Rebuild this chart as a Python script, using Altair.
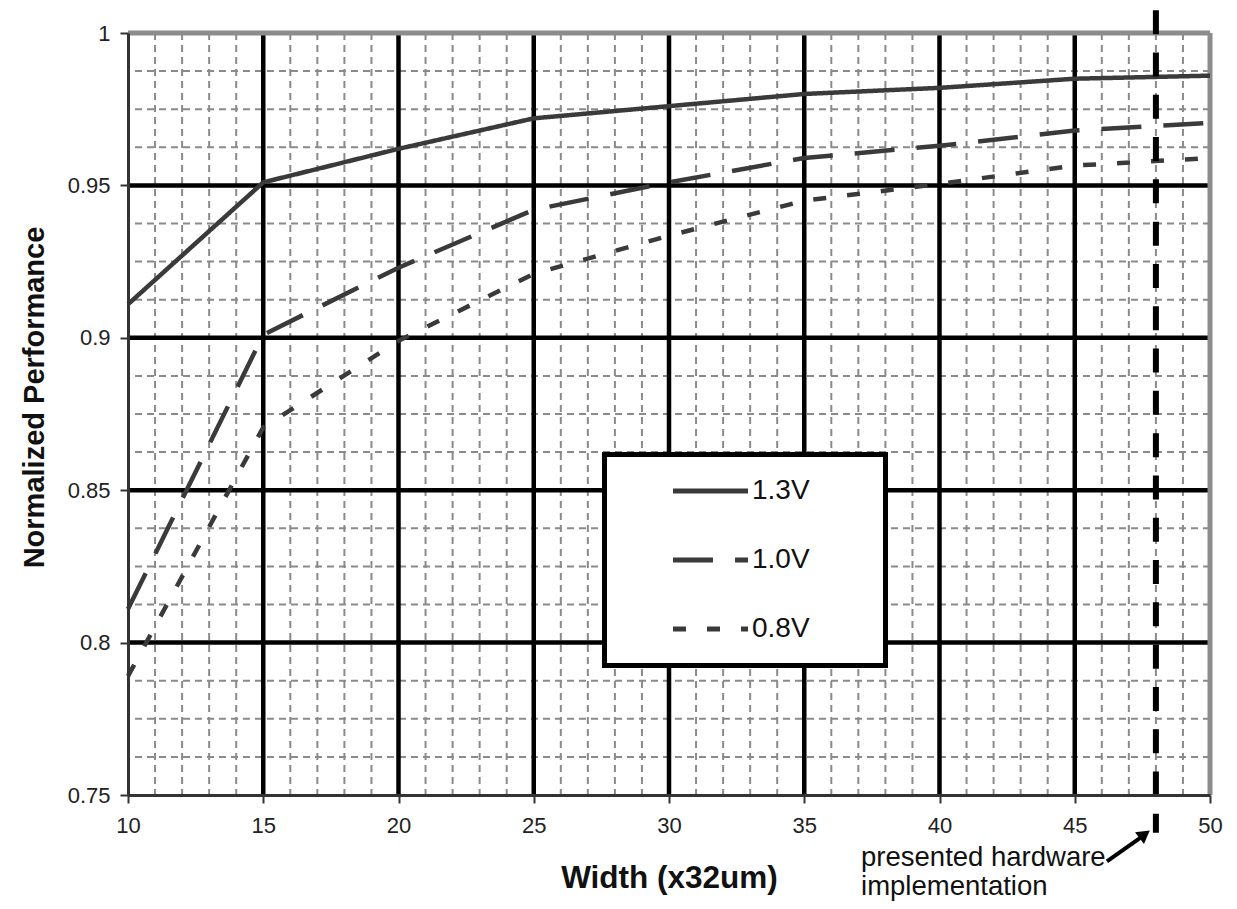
import altair as alt
import pandas as pd

# ---- data ----
widths = [10, 15, 20, 25, 30, 35, 40, 45, 50]
perf_13v = [0.911, 0.951, 0.962, 0.972, 0.976, 0.980, 0.982, 0.985, 0.986]
perf_10v = [0.811, 0.901, 0.923, 0.942, 0.951, 0.959, 0.963, 0.968, 0.9705]
perf_08v = [0.789, 0.8706, 0.899, 0.921, 0.9335, 0.945, 0.9505, 0.9565, 0.959]
series_names = ["1.3V", "1.0V", "0.8V"]
series_dashes = [[1, 0], [40, 22], [13, 21]]

x_ticks = [10, 15, 20, 25, 30, 35, 40, 45, 50]
y_ticks = [0.75, 0.8, 0.85, 0.9, 0.95, 1.0]
x_major_grid = [15, 20, 25, 30, 35, 40, 45]
y_major_grid = [0.8, 0.85, 0.9, 0.95]
x_minor_grid = [11, 12, 13, 14, 16, 17, 18, 19, 21, 22, 23, 24, 26, 27, 28, 29,
                31, 32, 33, 34, 36, 37, 38, 39, 41, 42, 43, 44, 46, 47, 48, 49]
y_minor_grid = [0.7625, 0.775, 0.7875, 0.8125, 0.825, 0.8375, 0.8625, 0.875,
                0.8875, 0.9125, 0.925, 0.9375, 0.9625, 0.975, 0.9875]
top_edge = [1.0]
right_edge = [50]

legend_box_x = [27.615, 38.004]
legend_box_y = [0.86171, 0.79249]

hw_x = [48]
hw_y_top = [1.0075]
hw_y_bottom = [0.7376]

note_lines = ["presented hardware", "implementation"]
note_x = [37.1, 37.1]
note_y = [0.7267, 0.7172]

arrow_x = [46.19, 47.46]
arrow_y = [0.7282, 0.7362]
head_x = [47.52]
head_y = [0.7367]

FONT = "Liberation Sans"
LINE_COLOR = "#3a3a3a"

xs = alt.Scale(domain=[10, 50], nice=False, zero=False)
ys = alt.Scale(domain=[0.75, 1.0], nice=False, zero=False)

x_axis = alt.Axis(values=x_ticks, grid=False, tickSize=8, tickWidth=2, tickColor="#333",
                  domainColor="#333", domainWidth=3, labelFont=FONT, labelFontSize=22,
                  labelColor="#222", labelPadding=12, labelFlush=False, labelOverlap=False,
                  title="Width (x32um)", titleFont=FONT, titleFontSize=31.5,
                  titleFontWeight="bold", titleColor="#111", titleY=92,
                  titleBaseline="alphabetic", zindex=1)
y_axis = alt.Axis(values=y_ticks, grid=False, tickSize=8, tickWidth=2, tickColor="#333",
                  domainColor="#333", domainWidth=3, labelFont=FONT, labelFontSize=22,
                  labelColor="#222", labelPadding=10, labelFlush=False, labelOverlap=False,
                  format="~g", title="Normalized Performance", titleFont=FONT,
                  titleFontSize=29, titleFontWeight="bold", titleColor="#111",
                  titleX=-85, titleY=364, titleAngle=270, titleAlign="center",
                  titleBaseline="alphabetic", zindex=1)


def X(field):
    return alt.X(field, scale=xs, axis=x_axis)


def Y(field):
    return alt.Y(field, scale=ys, axis=y_axis)


rows = []
for name, vals in zip(series_names, [perf_13v, perf_10v, perf_08v]):
    for w, v in zip(widths, vals):
        rows.append({"x": w, "y": v, "series": name})
df_lines = pd.DataFrame(rows)

minor_v = alt.Chart(pd.DataFrame({"x": x_minor_grid})).mark_rule(
    color="#8a8a8a", strokeWidth=2, strokeDash=[7, 5]).encode(x=X("x:Q"))
minor_h = alt.Chart(pd.DataFrame({"y": y_minor_grid})).mark_rule(
    color="#8a8a8a", strokeWidth=2, strokeDash=[7, 5]).encode(y=Y("y:Q"))
major_v = alt.Chart(pd.DataFrame({"x": x_major_grid})).mark_rule(
    color="black", strokeWidth=4.5).encode(x=X("x:Q"))
major_h = alt.Chart(pd.DataFrame({"y": y_major_grid})).mark_rule(
    color="black", strokeWidth=4.5).encode(y=Y("y:Q"))
border_top = alt.Chart(pd.DataFrame({"y": top_edge})).mark_rule(
    color="#8c8c8c", strokeWidth=5).encode(y=Y("y:Q"))
border_right = alt.Chart(pd.DataFrame({"x": right_edge})).mark_rule(
    color="#8c8c8c", strokeWidth=5).encode(x=X("x:Q"))

legend_box = alt.Chart(pd.DataFrame({
    "x": [legend_box_x[0]], "x2": [legend_box_x[1]],
    "y": [legend_box_y[0]], "y2": [legend_box_y[1]]})).mark_rect(
    fill="white", stroke="black", strokeWidth=5).encode(
    x=X("x:Q"), x2="x2:Q", y=Y("y:Q"), y2="y2:Q")

lines = alt.Chart(df_lines).mark_line(color=LINE_COLOR, strokeWidth=4.5, strokeCap="butt").encode(
    x=X("x:Q"),
    y=Y("y:Q"),
    strokeDash=alt.StrokeDash(
        "series:N",
        scale=alt.Scale(domain=series_names, range=series_dashes),
        legend=alt.Legend(
            orient="none", legendX=476.5, legendY=421.5, title=None,
            direction="vertical", padding=20,
            symbolType="stroke", symbolSize=5625, symbolStrokeWidth=5,
            symbolStrokeColor=LINE_COLOR, symbolOffset=46, labelOffset=1.5,
            clipHeight=33, rowPadding=36, labelFont=FONT, labelFontSize=28,
            labelColor="#111",
        ),
    ),
    order=alt.Order("x:Q"),
)

hw = alt.Chart(pd.DataFrame({"x": hw_x, "y": hw_y_top, "y2": hw_y_bottom})).mark_rule(
    color="black", strokeWidth=6, strokeDash=[24, 18.3]).encode(
    x=X("x:Q"), y=Y("y:Q"), y2="y2:Q")

arrow = alt.Chart(pd.DataFrame({"x": arrow_x, "y": arrow_y})).mark_line(
    color="black", strokeWidth=4).encode(x=X("x:Q"), y=Y("y:Q"))
head = alt.Chart(pd.DataFrame({"x": head_x, "y": head_y})).mark_point(
    shape="triangle", filled=True, color="black", size=220, angle=53, opacity=1).encode(
    x=X("x:Q"), y=Y("y:Q"))

note = alt.Chart(pd.DataFrame({"x": note_x, "y": note_y, "t": note_lines})).mark_text(
    font=FONT, fontSize=27.5, align="left", baseline="alphabetic", color="#111").encode(
    x=X("x:Q"), y=Y("y:Q"), text="t:N")

chart = alt.layer(
    minor_v, minor_h, major_v, major_h, border_top, border_right, legend_box,
    lines, hw, arrow, head, note
).properties(
    width=1082, height=762,
    padding={"left": 120, "top": 25, "right": 19, "bottom": 106},
    autosize=alt.AutoSizeParams(type="none"),
    background="white",
).configure_view(stroke=None)

chart.save("out.html", embed_options={"renderer": "svg", "actions": False})
